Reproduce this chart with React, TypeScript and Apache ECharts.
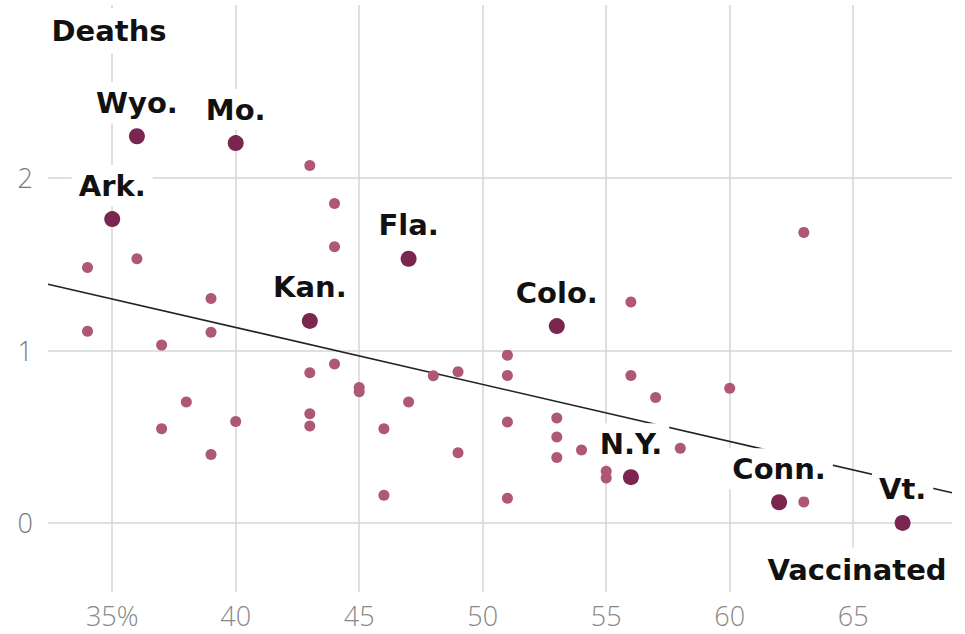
import React, { useEffect, useRef } from "react";
import * as echarts from "echarts";

// Vaccination rate (%) vs. deaths — unlabelled states
const otherX = [34, 34, 36, 37, 37, 38, 39, 39, 39, 40, 43, 43, 43, 43, 44, 44, 44, 45, 45, 46, 46, 47, 48, 49, 49, 51, 51, 51, 51, 53, 53, 53, 54, 55, 55, 56, 56, 57, 58, 60, 63, 63];
const otherY = [1.48, 1.11, 1.53, 1.03, 0.545, 0.70, 1.30, 1.105, 0.396, 0.587, 2.07, 0.87, 0.633, 0.562, 1.85, 1.60, 0.92, 0.785, 0.76, 0.546, 0.161, 0.70, 0.853, 0.876, 0.406, 0.972, 0.854, 0.585, 0.143, 0.608, 0.498, 0.379, 0.423, 0.30, 0.26, 1.28, 0.854, 0.727, 0.432, 0.78, 1.683, 0.122];

// Highlighted states
const stateNames = ["Wyo.", "Mo.", "Ark.", "Kan.", "Fla.", "Colo.", "N.Y.", "Conn.", "Vt."];
const stateX = [36, 40, 35, 43, 47, 53, 56, 62, 67];
const stateY = [2.24, 2.2, 1.76, 1.17, 1.53, 1.14, 0.265, 0.12, 0.0];

// Trend line endpoints
const trendX = [32.4, 69];
const trendY = [1.383, 0.175];

// Ticks
const xTicks = [35, 40, 45, 50, 55, 60, 65];
const yTicks = [0, 1, 2];

const LABEL_FONT = "'DejaVu Sans', sans-serif";
const TICK_FONT = "'Open Sans', sans-serif";

export default function App() {
  const ref = useRef<HTMLDivElement>(null);

  useEffect(() => {
    if (!ref.current) return;
    const chart = echarts.init(ref.current, null, { renderer: "svg" });

    const otherData = otherX.map((x, i) => [x, otherY[i]]);
    const stateData = stateX.map((x, i) => ({ value: [x, stateY[i]], name: stateNames[i] }));
    const trendData = trendX.map((x, i) => [x, trendY[i]]);

    const gridColor = "#d6d6d6";

    chart.setOption({
      animation: false,
      backgroundColor: "#ffffff",
      grid: { left: 48, right: 13, top: 5, bottom: 42, containLabel: false },
      xAxis: {
        type: "value",
        min: 32.4,
        max: 69,
        axisLine: { show: false },
        axisTick: { show: false, customValues: xTicks },
        splitLine: { show: true, lineStyle: { color: gridColor, width: 1.5 } },
        axisLabel: {
          customValues: xTicks,
          formatter: (v: number) => (v === 35 ? "35%" : String(v)),
          color: "#888888",
          fontSize: 27,
          lineHeight: 26,
          fontFamily: TICK_FONT,
          fontWeight: 300,
          margin: 10,
        },
      },
      yAxis: {
        type: "value",
        min: -0.4,
        max: 3,
        axisLine: { show: false },
        axisTick: { show: false, customValues: yTicks },
        splitLine: { show: true, lineStyle: { color: gridColor, width: 1.5 } },
        axisLabel: {
          customValues: yTicks,
          color: "#7a7a7a",
          fontSize: 27,
          fontFamily: TICK_FONT,
          fontWeight: 300,
          margin: 15,
        },
      },
      graphic: [
        {
          type: "text",
          z: 50,
          x: 109,
          y: 31,
          style: {
            text: "Deaths",
            fill: "#111",
            font: `bold 29px ${LABEL_FONT}`,
            align: "center",
            verticalAlign: "middle",
            backgroundColor: "#fff",
            padding: [8, 6],
          },
        },
        {
          type: "text",
          z: 50,
          x: 857,
          y: 570,
          style: {
            text: "Vaccinated",
            fill: "#111",
            font: `bold 29px ${LABEL_FONT}`,
            align: "center",
            verticalAlign: "middle",
            backgroundColor: "#fff",
            padding: [8, 6],
          },
        },
      ],
      series: [
        {
          type: "line",
          z: 2,
          data: trendData,
          symbol: "none",
          lineStyle: { color: "#222", width: 1.6 },
          silent: true,
        },
        {
          type: "scatter",
          z: 3,
          data: otherData,
          symbolSize: 11,
          itemStyle: { color: "#ae5777", opacity: 1 },
        },
        {
          type: "scatter",
          z: 4,
          data: stateData,
          symbolSize: 16,
          itemStyle: { color: "#7a2650", opacity: 1 },
          label: {
            show: true,
            position: "top",
            distance: 5,
            formatter: (p: any) => p.name,
            color: "#111",
            fontFamily: LABEL_FONT,
            fontWeight: "bold",
            fontSize: 29,
            backgroundColor: "#fff",
            padding: [6, 7],
          },
          labelLayout: { hideOverlap: false },
        },
      ],
    });

    return () => chart.dispose();
  }, []);

  return (
    <div
      ref={ref}
      style={{ position: "fixed", left: 0, top: 0, width: 965, height: 634 }}
    />
  );
}
